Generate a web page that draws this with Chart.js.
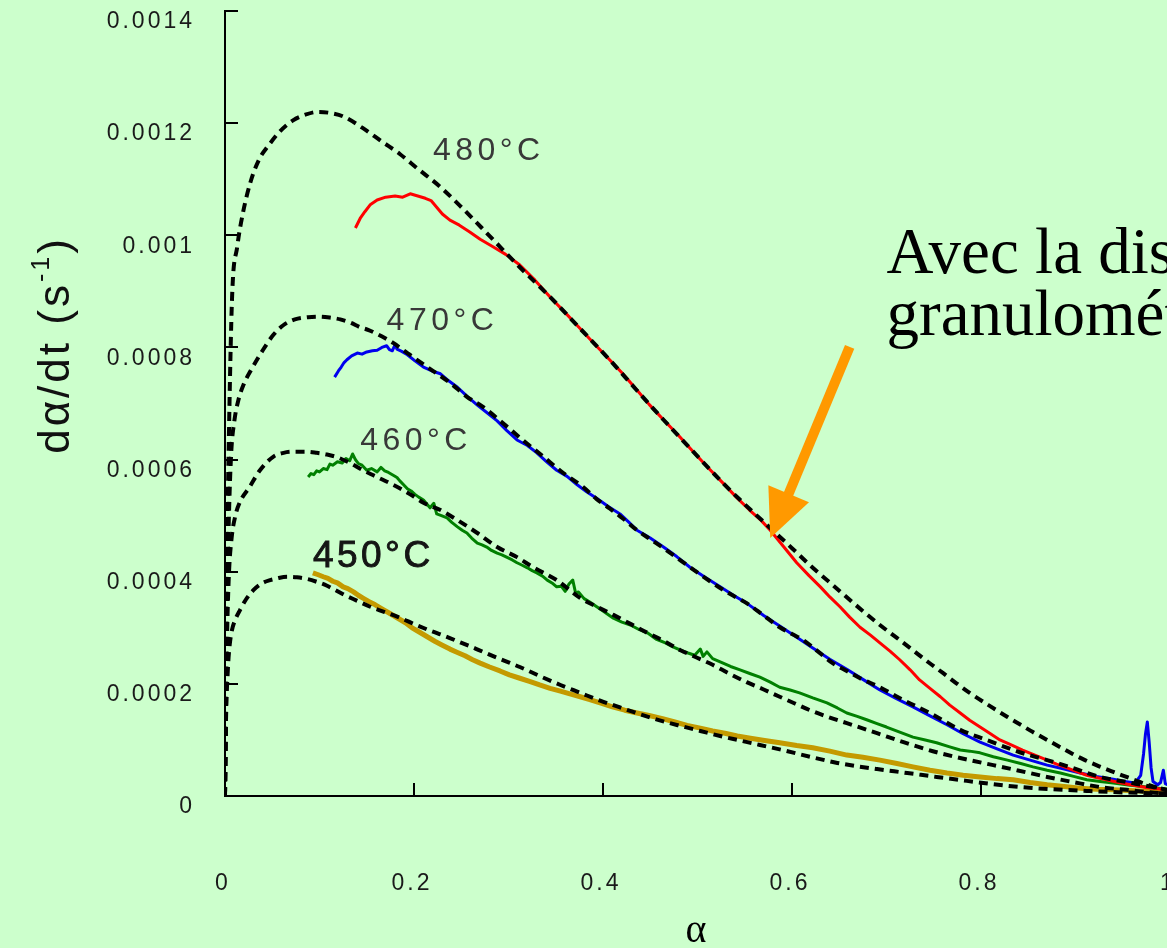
<!DOCTYPE html>
<html lang="fr">
<head>
<meta charset="utf-8">
<title>dα/dt en fonction de α</title>
<script src="https://cdn.jsdelivr.net/npm/chart.js@4.4.1/dist/chart.umd.min.js"></script>
<style>
  html, body { margin: 0; padding: 0; background: #ccffcc; overflow: hidden; }
  #frame { width: 1167px; height: 948px; overflow: hidden; }
  canvas { display: block; }
</style>
</head>
<body>
<div id="frame"><canvas id="rateChart" width="1180" height="948"></canvas></div>
<script>
// tick labels
const xTickLabels = ['0', '0.2', '0.4', '0.6', '0.8', '1'];
const yTickLabels = ['0', '0.0002', '0.0004', '0.0006', '0.0008', '0.001', '0.0012', '0.0014'];

// all rates are in units of 1e-4 s^-1

// 480°C  model (dashed) and measurement (red)
const alpha480Model = [0, 0.001, 0.002, 0.004, 0.0075, 0.013, 0.019, 0.027, 0.036, 0.046, 0.058, 0.072, 0.085, 0.098, 0.112, 0.125, 0.146, 0.167, 0.185, 0.203, 0.228, 0.252, 0.277, 0.312, 0.344, 0.375, 0.407, 0.435, 0.464, 0.495, 0.527, 0.552, 0.577, 0.600, 0.622, 0.642, 0.661, 0.677, 0.693, 0.711, 0.728, 0.744, 0.760, 0.774, 0.788, 0.808, 0.828, 0.842, 0.855, 0.870, 0.884, 0.897, 0.910, 0.925, 0.940, 0.954, 0.968, 0.982, 0.995, 1.0];
const rate480Model = [0, 2.4, 4.0, 6.3, 8.9, 9.8, 10.4, 10.95, 11.35, 11.6, 11.85, 12.05, 12.15, 12.2, 12.18, 12.12, 11.91, 11.66, 11.45, 11.2, 10.86, 10.47, 10.04, 9.43, 8.90, 8.35, 7.78, 7.25, 6.71, 6.15, 5.58, 5.17, 4.78, 4.42, 4.07, 3.78, 3.50, 3.27, 3.05, 2.82, 2.60, 2.39, 2.19, 2.01, 1.84, 1.62, 1.41, 1.27, 1.14, 1.00, 0.87, 0.75, 0.64, 0.53, 0.43, 0.34, 0.25, 0.17, 0.11, 0.09];
const alpha480Data = [0.138, 0.143, 0.148, 0.154, 0.161, 0.170, 0.180, 0.188, 0.196, 0.204, 0.212, 0.218, 0.224, 0.230, 0.238, 0.248, 0.259, 0.270, 0.284, 0.297, 0.312, 0.328, 0.344, 0.360, 0.375, 0.391, 0.407, 0.421, 0.435, 0.449, 0.464, 0.480, 0.495, 0.511, 0.527, 0.541, 0.555, 0.567, 0.577, 0.591, 0.605, 0.618, 0.630, 0.640, 0.651, 0.661, 0.672, 0.683, 0.693, 0.704, 0.714, 0.725, 0.735, 0.746, 0.757, 0.767, 0.778, 0.788, 0.799, 0.810, 0.820, 0.832, 0.844, 0.857, 0.870, 0.880, 0.891, 0.902, 0.912, 0.922, 0.933, 0.946, 0.958, 0.975, 0.997];
const rate480Data = [10.13, 10.30, 10.42, 10.55, 10.63, 10.68, 10.70, 10.68, 10.74, 10.70, 10.66, 10.62, 10.50, 10.38, 10.27, 10.18, 10.06, 9.93, 9.79, 9.66, 9.47, 9.20, 8.90, 8.62, 8.35, 8.06, 7.78, 7.53, 7.26, 6.98, 6.71, 6.43, 6.15, 5.86, 5.58, 5.33, 5.10, 4.92, 4.74, 4.45, 4.16, 3.93, 3.73, 3.55, 3.37, 3.19, 3.01, 2.87, 2.73, 2.58, 2.43, 2.25, 2.07, 1.92, 1.77, 1.62, 1.48, 1.35, 1.23, 1.11, 1.00, 0.91, 0.82, 0.73, 0.64, 0.57, 0.50, 0.43, 0.37, 0.33, 0.29, 0.24, 0.20, 0.15, 0.11];

// 470°C  model (dashed) and measurement (blue)
const alpha470Model = [0, 0.001, 0.002, 0.004, 0.0065, 0.010, 0.014, 0.020, 0.027, 0.040, 0.051, 0.062, 0.074, 0.088, 0.100, 0.112, 0.122, 0.133, 0.143, 0.152, 0.161, 0.170, 0.178, 0.193, 0.214, 0.238, 0.256, 0.273, 0.294, 0.315, 0.337, 0.358, 0.379, 0.393, 0.407, 0.421, 0.436, 0.450, 0.464, 0.478, 0.492, 0.508, 0.524, 0.538, 0.552, 0.570, 0.587, 0.600, 0.612, 0.628, 0.643, 0.658, 0.672, 0.693, 0.718, 0.746, 0.778, 0.806, 0.841, 0.870, 0.897, 0.926, 0.954, 0.982, 1.0];
const rate470Model = [0, 1.9, 3.3, 4.9, 6.1, 6.7, 7.05, 7.35, 7.58, 7.95, 8.22, 8.40, 8.50, 8.54, 8.55, 8.53, 8.50, 8.44, 8.36, 8.31, 8.24, 8.16, 8.08, 7.90, 7.65, 7.37, 7.12, 6.94, 6.65, 6.35, 6.05, 5.76, 5.51, 5.30, 5.13, 4.95, 4.74, 4.58, 4.42, 4.25, 4.08, 3.89, 3.71, 3.57, 3.44, 3.22, 3.01, 2.89, 2.78, 2.57, 2.37, 2.23, 2.10, 1.94, 1.71, 1.48, 1.18, 1.00, 0.78, 0.64, 0.50, 0.34, 0.25, 0.16, 0.10];
const alpha470Data = [0.116, 0.120, 0.123, 0.126, 0.129, 0.134, 0.140, 0.145, 0.150, 0.156, 0.161, 0.166, 0.171, 0.174, 0.177, 0.180, 0.182, 0.187, 0.193, 0.201, 0.210, 0.219, 0.228, 0.237, 0.246, 0.256, 0.267, 0.277, 0.288, 0.298, 0.309, 0.320, 0.330, 0.341, 0.351, 0.362, 0.372, 0.383, 0.394, 0.406, 0.418, 0.427, 0.436, 0.450, 0.464, 0.478, 0.492, 0.508, 0.524, 0.538, 0.552, 0.570, 0.587, 0.605, 0.622, 0.640, 0.658, 0.675, 0.693, 0.710, 0.728, 0.746, 0.764, 0.781, 0.799, 0.817, 0.834, 0.852, 0.870, 0.888, 0.905, 0.922, 0.940, 0.952, 0.963, 0.969, 0.972, 0.974, 0.976, 0.978, 0.980, 0.982, 0.987, 0.990, 0.993, 0.995, 1.0];
const rate470Data = [7.47, 7.58, 7.65, 7.73, 7.78, 7.85, 7.90, 7.88, 7.92, 7.94, 7.95, 8.00, 8.03, 7.96, 7.94, 8.05, 7.97, 7.93, 7.87, 7.76, 7.65, 7.58, 7.53, 7.40, 7.29, 7.13, 6.97, 6.84, 6.69, 6.52, 6.35, 6.25, 6.12, 5.95, 5.81, 5.70, 5.56, 5.42, 5.30, 5.16, 5.03, 4.89, 4.74, 4.60, 4.44, 4.27, 4.08, 3.90, 3.73, 3.58, 3.44, 3.22, 3.03, 2.83, 2.64, 2.44, 2.26, 2.08, 1.89, 1.74, 1.59, 1.43, 1.27, 1.11, 0.96, 0.84, 0.73, 0.64, 0.55, 0.48, 0.41, 0.35, 0.30, 0.26, 0.23, 0.37, 0.75, 1.10, 1.32, 0.95, 0.50, 0.26, 0.20, 0.24, 0.46, 0.22, 0.18];

// 460°C  model (dashed) and measurement (green)
const alpha460Model = [0, 0.001, 0.002, 0.004, 0.007, 0.011, 0.016, 0.026, 0.037, 0.051, 0.062, 0.072, 0.085, 0.097, 0.108, 0.119, 0.132, 0.146, 0.157, 0.167, 0.178, 0.188, 0.199, 0.210, 0.228, 0.246, 0.267, 0.288, 0.309, 0.326, 0.351, 0.376, 0.393, 0.411, 0.429, 0.447, 0.465, 0.482, 0.499, 0.516, 0.534, 0.552, 0.570, 0.587, 0.603, 0.619, 0.638, 0.658, 0.674, 0.690, 0.718, 0.753, 0.788, 0.813, 0.838, 0.870, 0.897, 0.926, 0.954, 0.989, 1.0];
const rate460Model = [0, 1.5, 2.7, 3.9, 4.6, 5.0, 5.25, 5.51, 5.81, 6.05, 6.12, 6.14, 6.14, 6.12, 6.09, 6.04, 5.94, 5.81, 5.72, 5.64, 5.55, 5.46, 5.35, 5.23, 5.10, 4.92, 4.69, 4.44, 4.26, 4.08, 3.85, 3.53, 3.38, 3.23, 3.07, 2.91, 2.76, 2.60, 2.47, 2.34, 2.18, 2.03, 1.90, 1.77, 1.65, 1.53, 1.41, 1.30, 1.21, 1.12, 0.96, 0.78, 0.64, 0.55, 0.46, 0.34, 0.25, 0.16, 0.11, 0.05, 0.04];
const alpha460Data = [0.088, 0.091, 0.094, 0.097, 0.100, 0.104, 0.108, 0.111, 0.114, 0.119, 0.124, 0.128, 0.132, 0.135, 0.138, 0.141, 0.145, 0.150, 0.155, 0.161, 0.165, 0.169, 0.173, 0.178, 0.182, 0.185, 0.189, 0.193, 0.197, 0.201, 0.205, 0.210, 0.214, 0.217, 0.221, 0.224, 0.229, 0.235, 0.240, 0.246, 0.251, 0.256, 0.261, 0.267, 0.272, 0.277, 0.282, 0.288, 0.293, 0.298, 0.304, 0.309, 0.314, 0.320, 0.325, 0.330, 0.336, 0.341, 0.346, 0.351, 0.356, 0.360, 0.364, 0.368, 0.371, 0.374, 0.380, 0.386, 0.393, 0.400, 0.411, 0.420, 0.429, 0.438, 0.447, 0.456, 0.466, 0.474, 0.482, 0.490, 0.497, 0.503, 0.506, 0.510, 0.516, 0.524, 0.535, 0.545, 0.556, 0.566, 0.577, 0.587, 0.598, 0.608, 0.622, 0.637, 0.648, 0.658, 0.669, 0.679, 0.690, 0.700, 0.714, 0.728, 0.741, 0.753, 0.766, 0.778, 0.788, 0.799, 0.813, 0.828, 0.842, 0.855, 0.870, 0.884, 0.898, 0.912, 0.926, 0.940, 0.958, 0.976, 0.997];
const rate460Data = [5.69, 5.75, 5.73, 5.80, 5.78, 5.84, 5.82, 5.92, 5.90, 5.96, 5.94, 6.02, 5.98, 6.10, 6.00, 5.93, 5.90, 5.81, 5.84, 5.78, 5.86, 5.80, 5.77, 5.72, 5.68, 5.62, 5.55, 5.48, 5.44, 5.38, 5.33, 5.28, 5.20, 5.14, 5.22, 5.03, 5.00, 4.96, 4.88, 4.80, 4.74, 4.69, 4.60, 4.51, 4.48, 4.44, 4.38, 4.33, 4.30, 4.26, 4.21, 4.16, 4.12, 4.07, 4.02, 3.98, 3.92, 3.85, 3.80, 3.73, 3.74, 3.65, 3.78, 3.85, 3.62, 3.64, 3.52, 3.46, 3.38, 3.30, 3.17, 3.10, 3.05, 2.97, 2.91, 2.80, 2.73, 2.66, 2.60, 2.55, 2.51, 2.62, 2.49, 2.57, 2.45, 2.39, 2.31, 2.25, 2.18, 2.12, 2.03, 1.94, 1.89, 1.84, 1.75, 1.66, 1.57, 1.48, 1.42, 1.36, 1.29, 1.23, 1.14, 1.05, 1.00, 0.95, 0.88, 0.82, 0.80, 0.77, 0.70, 0.64, 0.58, 0.52, 0.46, 0.41, 0.35, 0.29, 0.26, 0.23, 0.19, 0.16, 0.12];

// 450°C  model (dashed) and measurement (gold)
const alpha450Model = [0, 0.001, 0.003, 0.005, 0.0074, 0.011, 0.016, 0.022, 0.030, 0.037, 0.044, 0.055, 0.066, 0.076, 0.087, 0.097, 0.108, 0.117, 0.127, 0.140, 0.153, 0.169, 0.185, 0.201, 0.217, 0.233, 0.249, 0.265, 0.280, 0.296, 0.312, 0.333, 0.355, 0.376, 0.397, 0.418, 0.439, 0.460, 0.482, 0.503, 0.524, 0.545, 0.566, 0.590, 0.619, 0.648, 0.669, 0.690, 0.722, 0.753, 0.785, 0.813, 0.841, 0.876, 0.912, 0.940, 0.989, 1.0];
const rate450Model = [0, 1.3, 2.25, 2.7, 2.96, 3.15, 3.32, 3.50, 3.67, 3.77, 3.83, 3.88, 3.91, 3.90, 3.87, 3.82, 3.75, 3.67, 3.58, 3.48, 3.38, 3.28, 3.18, 3.06, 2.95, 2.85, 2.74, 2.63, 2.52, 2.41, 2.30, 2.14, 1.98, 1.84, 1.70, 1.58, 1.46, 1.35, 1.25, 1.16, 1.07, 0.99, 0.91, 0.82, 0.70, 0.59, 0.53, 0.48, 0.41, 0.34, 0.27, 0.21, 0.16, 0.12, 0.09, 0.07, 0.05, 0.05];
const alpha450Data = [0.093, 0.098, 0.104, 0.109, 0.114, 0.119, 0.125, 0.130, 0.136, 0.141, 0.146, 0.152, 0.159, 0.167, 0.175, 0.183, 0.191, 0.198, 0.206, 0.214, 0.222, 0.230, 0.238, 0.246, 0.254, 0.262, 0.270, 0.280, 0.291, 0.301, 0.312, 0.323, 0.333, 0.344, 0.355, 0.365, 0.376, 0.386, 0.397, 0.410, 0.423, 0.436, 0.450, 0.463, 0.476, 0.489, 0.503, 0.516, 0.529, 0.542, 0.556, 0.571, 0.587, 0.605, 0.622, 0.640, 0.658, 0.675, 0.693, 0.711, 0.728, 0.746, 0.764, 0.781, 0.799, 0.817, 0.834, 0.852, 0.870, 0.888, 0.905, 0.922, 0.940, 0.968, 0.997];
const rate450Data = [3.98, 3.95, 3.91, 3.88, 3.83, 3.80, 3.73, 3.70, 3.64, 3.58, 3.53, 3.47, 3.41, 3.33, 3.25, 3.17, 3.09, 3.00, 2.92, 2.84, 2.76, 2.69, 2.62, 2.56, 2.50, 2.43, 2.37, 2.30, 2.23, 2.16, 2.10, 2.04, 1.98, 1.92, 1.87, 1.82, 1.77, 1.72, 1.66, 1.59, 1.53, 1.48, 1.43, 1.38, 1.32, 1.26, 1.21, 1.16, 1.12, 1.07, 1.03, 0.99, 0.95, 0.90, 0.86, 0.80, 0.73, 0.69, 0.64, 0.58, 0.52, 0.46, 0.41, 0.37, 0.34, 0.31, 0.29, 0.24, 0.20, 0.17, 0.14, 0.12, 0.11, 0.09, 0.07];

// curve labels, placed in data units (alpha, rate) at the left end of the baseline
const tempLabels = ['480°C', '470°C', '460°C', '450°C'];
const tempLabelAlpha = [0.220, 0.171, 0.143, 0.093];
const tempLabelRate = [11.34, 8.31, 6.17, 4.08];

// note and arrow
const noteLines = ['Avec la distribution', 'granulométrique'];
const noteAlpha = 0.700;
const noteRate = [9.33, 8.22];
const arrowTail = [0.661, 8.01];
const arrowTip = [0.577, 4.60];

function pairUp(xs, ys) {
  return xs.map((x, i) => ({ x: x, y: ys[i] }));
}

function modelLine(xs, ys) {
  return {
    data: pairUp(xs, ys),
    borderColor: '#000000',
    borderWidth: 4,
    borderDash: [9, 6],
    pointRadius: 0,
    cubicInterpolationMode: 'monotone',
    order: 0
  };
}

function measuredLine(xs, ys, color, width) {
  return {
    data: pairUp(xs, ys),
    borderColor: color,
    borderWidth: width,
    pointRadius: 0,
    tension: 0,
    borderJoinStyle: 'round',
    order: 1
  };
}

const paperPlugin = {
  id: 'paper',
  beforeDraw(chart) {
    const c = chart.ctx;
    c.save();
    c.fillStyle = '#ccffcc';
    c.fillRect(0, 0, chart.width, chart.height);
    c.restore();
    // the tick labels of the figure are spread out
    c.letterSpacing = '3px';
  },
  afterDraw(chart) {
    const c = chart.ctx;
    const sx = chart.scales.x;
    const sy = chart.scales.y;
    c.save();

    // temperature labels
    c.textAlign = 'left';
    c.textBaseline = 'alphabetic';
    tempLabels.forEach((t, i) => {
      const last = i === tempLabels.length - 1;
      c.font = (last ? 37 : 32) + 'px "Liberation Sans"';
      c.letterSpacing = last ? '3.5px' : '4.5px';
      c.fillStyle = last ? '#151515' : '#383838';
      const px = sx.getPixelForValue(tempLabelAlpha[i]);
      const py = sy.getPixelForValue(tempLabelRate[i]);
      c.fillText(t, px, py);
      if (last) {
        c.strokeStyle = '#151515';
        c.lineWidth = 0.9;
        c.strokeText(t, px, py);
      }
    });

    // orange arrow
    const tx = sx.getPixelForValue(arrowTail[0]);
    const ty = sy.getPixelForValue(arrowTail[1]);
    const hx = sx.getPixelForValue(arrowTip[0]);
    const hy = sy.getPixelForValue(arrowTip[1]);
    const ang = Math.atan2(hy - ty, hx - tx);
    const headLen = 48;
    const headHalf = 22;
    const bx = hx - headLen * Math.cos(ang);
    const by = hy - headLen * Math.sin(ang);
    c.strokeStyle = '#ff9900';
    c.fillStyle = '#ff9900';
    c.lineWidth = 10;
    c.lineCap = 'butt';
    c.beginPath();
    c.moveTo(tx, ty);
    c.lineTo(bx + 4 * Math.cos(ang), by + 4 * Math.sin(ang));
    c.stroke();
    c.beginPath();
    c.moveTo(hx, hy);
    c.lineTo(bx + headHalf * Math.sin(ang), by - headHalf * Math.cos(ang));
    c.lineTo(bx - headHalf * Math.sin(ang), by + headHalf * Math.cos(ang));
    c.closePath();
    c.fill();

    // note
    c.letterSpacing = '0px';
    c.font = '65px "Liberation Serif"';
    c.fillStyle = '#000000';
    noteLines.forEach((t, i) => {
      c.fillText(t, sx.getPixelForValue(noteAlpha), sy.getPixelForValue(noteRate[i]));
    });

    // y axis title with superscript
    c.translate(69, 345);
    c.rotate(-Math.PI / 2);
    c.fillStyle = '#111111';
    c.letterSpacing = '3px';
    const parts = [['dα/dt (s', 44, 0], ['-1', 25, 20], [')', 44, 0]];
    let total = 0;
    const widths = parts.map(p => {
      c.font = p[1] + 'px "Liberation Sans"';
      const w = c.measureText(p[0]).width;
      total += w;
      return w;
    });
    let cx = -total / 2;
    parts.forEach((p, i) => {
      c.font = p[1] + 'px "Liberation Sans"';
      c.fillText(p[0], cx, -p[2]);
      cx += widths[i];
    });

    c.restore();
  }
};

const ctx = document.getElementById('rateChart').getContext('2d');

new Chart(ctx, {
  type: 'line',
  data: {
    datasets: [
      modelLine(alpha480Model, rate480Model),
      modelLine(alpha470Model, rate470Model),
      modelLine(alpha460Model, rate460Model),
      modelLine(alpha450Model, rate450Model),
      measuredLine(alpha480Data, rate480Data, '#ff0000', 3),
      measuredLine(alpha470Data, rate470Data, '#0000ee', 3),
      measuredLine(alpha460Data, rate460Data, '#008000', 3),
      measuredLine(alpha450Data, rate450Data, '#c49a00', 5)
    ]
  },
  options: {
    responsive: false,
    animation: false,
    events: [],
    layout: { padding: { top: 11, right: 10, bottom: 0, left: 0 } },
    plugins: {
      legend: { display: false },
      tooltip: { enabled: false }
    },
    scales: {
      x: {
        type: 'linear',
        min: 0,
        max: 1,
        afterFit: s => { s.height = 152; s.paddingLeft = 0; s.paddingRight = 0; },
        border: { display: true, color: '#000000', width: 2 },
        grid: { display: true, drawOnChartArea: false, drawTicks: true, tickLength: -13, color: '#000000', lineWidth: 2 },
        ticks: {
          stepSize: 0.2,
          padding: 89,
          labelOffset: -2,
          color: '#1a1a1a',
          maxRotation: 0,
          autoSkip: false,
          font: { family: 'Liberation Sans', size: 23, lineHeight: 1 },
          callback: (v, i) => xTickLabels[i]
        },
        title: {
          display: true,
          text: 'α',
          color: '#000000',
          font: { family: 'Liberation Serif', size: 40, lineHeight: 0.85 },
          padding: 0
        }
      },
      y: {
        type: 'linear',
        min: 0,
        max: 14,
        afterFit: s => { s.width = 225; s.paddingTop = 0; s.paddingBottom = 0; },
        border: { display: true, color: '#000000', width: 2 },
        grid: { display: true, drawOnChartArea: false, drawTicks: true, tickLength: -13, color: '#000000', lineWidth: 2 },
        ticks: {
          stepSize: 2,
          padding: 43,
          labelOffset: 11,
          color: '#1a1a1a',
          font: { family: 'Liberation Sans', size: 23, lineHeight: 1 },
          callback: (v, i) => yTickLabels[i]
        }
      }
    }
  },
  plugins: [paperPlugin]
});
</script>
</body>
</html>
